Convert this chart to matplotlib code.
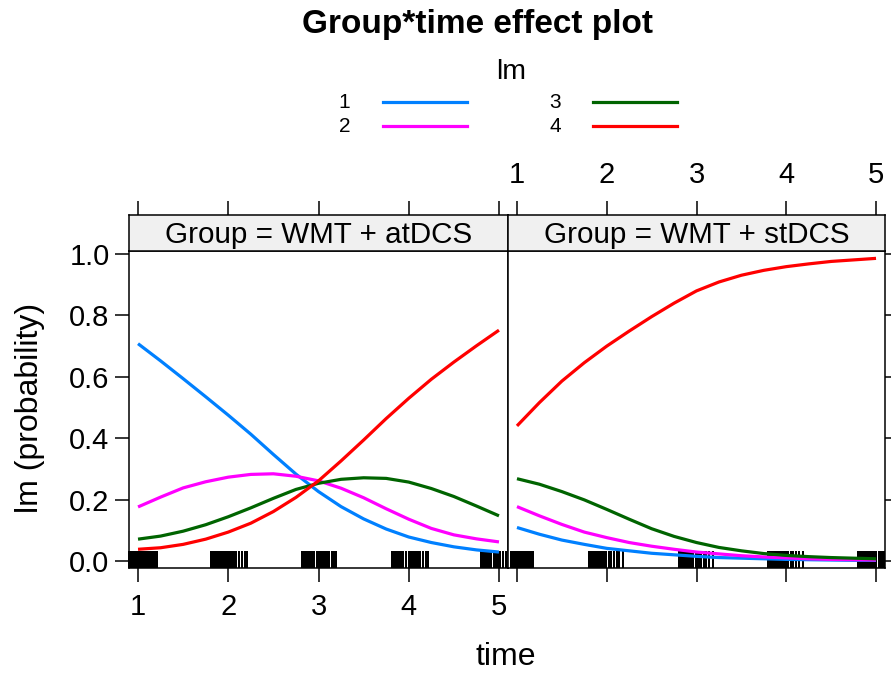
import matplotlib
matplotlib.use("Agg")
import matplotlib.pyplot as plt
import matplotlib.transforms as mtransforms
from matplotlib.lines import Line2D

plt.rcParams["font.family"] = ["Liberation Sans", "DejaVu Sans"]

# data
time = [1.0, 1.25, 1.5, 1.75, 2.0, 2.25, 2.5, 2.75, 3.0,
        3.25, 3.5, 3.75, 4.0, 4.25, 4.5, 4.75, 5.0]
groups = ["WMT + atDCS", "WMT + stDCS"]
levels = ["1", "2", "3", "4"]
colors = ["#0080ff", "#ff00ff", "#006400", "#ff0000"]

atdcs_1 = [0.708, 0.652, 0.594, 0.535, 0.475, 0.413, 0.347, 0.283, 0.226,
           0.177, 0.137, 0.104, 0.078, 0.060, 0.046, 0.036, 0.029]
atdcs_2 = [0.176, 0.208, 0.238, 0.258, 0.273, 0.282, 0.284, 0.276, 0.261,
           0.237, 0.206, 0.170, 0.136, 0.106, 0.085, 0.072, 0.062]
atdcs_3 = [0.071, 0.081, 0.097, 0.118, 0.144, 0.173, 0.204, 0.233, 0.253,
           0.266, 0.271, 0.269, 0.257, 0.236, 0.210, 0.179, 0.147]
atdcs_4 = [0.038, 0.043, 0.054, 0.071, 0.094, 0.123, 0.161, 0.207, 0.261,
           0.326, 0.394, 0.464, 0.530, 0.592, 0.648, 0.701, 0.752]

stdcs_1 = [0.109, 0.087, 0.068, 0.054, 0.041, 0.033, 0.025, 0.020, 0.015,
           0.011, 0.009, 0.007, 0.005, 0.004, 0.003, 0.002, 0.002]
stdcs_2 = [0.177, 0.147, 0.119, 0.094, 0.076, 0.060, 0.048, 0.038, 0.029,
           0.023, 0.017, 0.013, 0.010, 0.007, 0.005, 0.004, 0.003]
stdcs_3 = [0.268, 0.250, 0.226, 0.199, 0.168, 0.136, 0.105, 0.080, 0.060,
           0.044, 0.033, 0.024, 0.018, 0.014, 0.011, 0.009, 0.007]
stdcs_4 = [0.440, 0.516, 0.586, 0.646, 0.700, 0.749, 0.796, 0.840, 0.880,
           0.909, 0.931, 0.947, 0.959, 0.968, 0.976, 0.981, 0.986]

rug_atdcs = [0.90, 0.91, 0.93, 0.94, 0.96, 0.97, 0.99, 1.00, 1.02, 1.04, 1.05, 1.07,
             1.08, 1.10, 1.11, 1.13, 1.14, 1.16, 1.18, 1.19, 1.21,
             1.81, 1.82, 1.84, 1.85, 1.87, 1.89, 1.91, 1.93, 1.94, 1.96, 1.98, 2.00,
             2.02, 2.04, 2.06, 2.09, 2.12, 2.15, 2.18, 2.21,
             2.82, 2.83, 2.85, 2.87, 2.89, 2.91, 2.93, 2.95, 2.98, 3.00, 3.02, 3.04,
             3.06, 3.08, 3.10, 3.12, 3.15, 3.17, 3.19,
             3.81, 3.82, 3.84, 3.86, 3.88, 3.90, 3.92, 3.94, 3.97, 4.00, 4.02, 4.04,
             4.06, 4.08, 4.10, 4.13, 4.16, 4.19, 4.21,
             4.80, 4.81, 4.83, 4.85, 4.87, 4.89, 4.91, 4.94, 4.97, 4.99, 5.01, 5.04,
             5.08, 5.11, 5.15, 5.20]
rug_stdcs = [0.93, 0.94, 0.96, 0.98, 1.00, 1.02, 1.04, 1.06, 1.08, 1.10, 1.12,
             1.14, 1.16, 1.18,
             1.80, 1.81, 1.83, 1.85, 1.87, 1.89, 1.91, 1.93, 1.95, 1.97, 1.99,
             2.02, 2.05, 2.08, 2.11, 2.14, 2.18,
             2.81, 2.82, 2.84, 2.86, 2.88, 2.90, 2.92, 2.94, 2.96, 2.99, 3.01,
             3.03, 3.05, 3.08, 3.11, 3.14, 3.18,
             3.80, 3.81, 3.83, 3.85, 3.87, 3.89, 3.91, 3.93, 3.95, 3.98, 4.00,
             4.02, 4.05, 4.08, 4.11, 4.14, 4.19,
             4.80, 4.81, 4.83, 4.85, 4.87, 4.89, 4.91, 4.93, 4.96, 4.98, 5.00,
             5.03, 5.05, 5.07, 5.09]

panels = [
    (groups[0], [atdcs_1, atdcs_2, atdcs_3, atdcs_4], rug_atdcs),
    (groups[1], [stdcs_1, stdcs_2, stdcs_3, stdcs_4], rug_stdcs),
]

W, H = 891, 674
fig = plt.figure(figsize=(W / 100, H / 100), dpi=100)


def box(x0, y0, x1, y1):
    # pixel box (top-left origin) -> figure fractions
    return [x0 / W, 1 - y1 / H, (x1 - x0) / W, (y1 - y0) / H]


panel_x = [(129, 508), (508, 885)]
tick_kw = dict(length=10, width=1.1, labelsize=21, direction="out", color="black")

for i, ((name, series, rug), (x0, x1)) in enumerate(zip(panels, panel_x)):
    ax = fig.add_axes(box(x0, 251, x1, 568))
    # rug first so the curves sit on top, as in the lattice output
    trans = mtransforms.blended_transform_factory(ax.transData, ax.transAxes)
    ax.vlines(rug, 0, 0.055, transform=trans, color="black", lw=1.2,
              clip_on=False, antialiased=False, zorder=1)
    for vals, col in zip(series, colors):
        ax.plot(time, vals, color=col, lw=2.3, solid_capstyle="butt", zorder=2)
    ax.set_xlim(0.9, 5.1)
    ax.set_ylim(-0.023, 1.01)
    ax.set_xticks([1, 2, 3, 4, 5])
    ax.set_yticks([0.0, 0.2, 0.4, 0.6, 0.8, 1.0])
    ax.set_yticklabels(["0.0", "0.2", "0.4", "0.6", "0.8", "1.0"])
    for s in ax.spines.values():
        s.set_linewidth(1.1)
    if i == 0:
        ax.tick_params(axis="x", bottom=True, labelbottom=True, pad=8, **tick_kw)
        ax.tick_params(axis="y", left=True, labelleft=True, right=False, pad=4, **tick_kw)
    else:
        ax.tick_params(axis="x", bottom=True, labelbottom=False, **tick_kw)
        ax.tick_params(axis="y", left=False, labelleft=False, right=True,
                       labelright=False, **tick_kw)

    strip = fig.add_axes(box(x0, 215, x1, 251), sharex=ax)
    strip.set_facecolor("#f0f0f0")
    strip.set_yticks([])
    for s in strip.spines.values():
        s.set_linewidth(1.1)
    strip.tick_params(axis="x", bottom=False, labelbottom=False, top=True,
                      labeltop=(i == 1), pad=9, **tick_kw)
    strip.text(0.5, 0.45, "Group = " + name, transform=strip.transAxes,
               ha="center", va="center", fontsize=21.3)

fig.text(477 / W, 1 - 24 / H, "Group*time effect plot", ha="center", va="center",
         fontsize=24, fontweight="bold")
fig.text(30 / W, 1 - 408 / H, "lm (probability)", rotation=90, ha="center",
         va="center", fontsize=23)
fig.text(506 / W, 1 - 657 / H, "time", ha="center", va="center", fontsize=23)

# legend drawn by hand to match the lattice key
fig.text(511 / W, 1 - 72 / H, "lm", ha="center", va="center", fontsize=20.5)
key_pos = [(350, 383, 467, 102), (350, 383, 467, 126),
           (561, 593, 677, 102), (561, 593, 677, 126)]
for lab, col, (tx, lx0, lx1, ly) in zip(levels, colors, key_pos):
    fig.text(tx / W, 1 - ly / H, lab, ha="right", va="center", fontsize=15)
    fig.add_artist(Line2D([lx0 / W, lx1 / W], [1 - ly / H, 1 - ly / H],
                          transform=fig.transFigure, color=col, lw=2.3))

fig.savefig("out.png", dpi=100)
